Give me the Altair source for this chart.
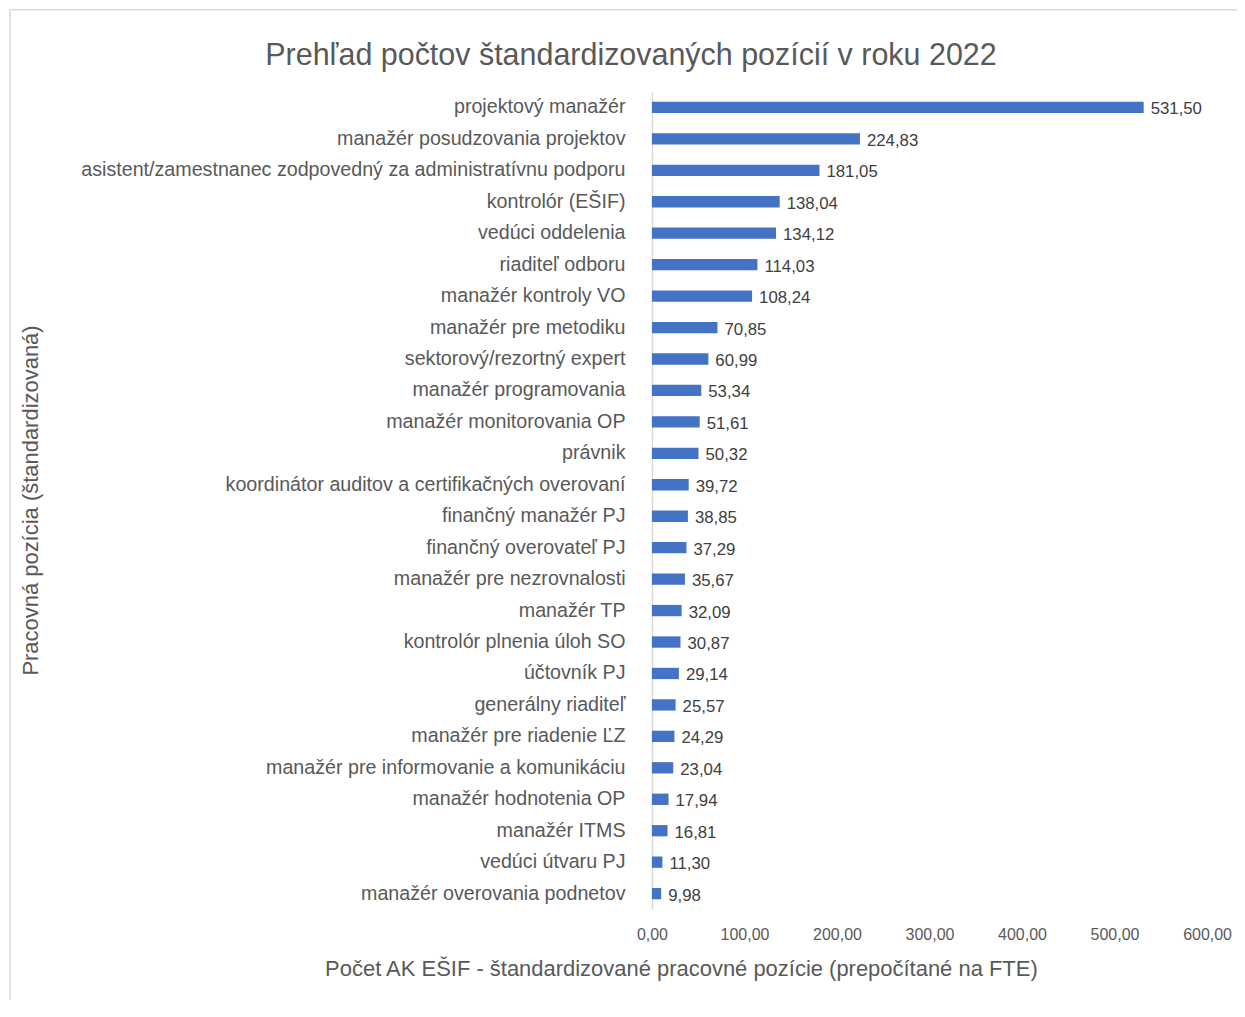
import altair as alt
import pandas as pd

categories = [
    "projektový manažér",
    "manažér posudzovania projektov",
    "asistent/zamestnanec zodpovedný za administratívnu podporu",
    "kontrolór (EŠIF)",
    "vedúci oddelenia",
    "riaditeľ odboru",
    "manažér kontroly VO",
    "manažér pre metodiku",
    "sektorový/rezortný expert",
    "manažér programovania",
    "manažér monitorovania OP",
    "právnik",
    "koordinátor auditov a certifikačných overovaní",
    "finančný manažér PJ",
    "finančný overovateľ PJ",
    "manažér pre nezrovnalosti",
    "manažér TP",
    "kontrolór plnenia úloh SO",
    "účtovník PJ",
    "generálny riaditeľ",
    "manažér pre riadenie ĽZ",
    "manažér pre informovanie a komunikáciu",
    "manažér hodnotenia OP",
    "manažér ITMS",
    "vedúci útvaru PJ",
    "manažér overovania podnetov",
]
values = [531.50, 224.83, 181.05, 138.04, 134.12, 114.03, 108.24, 70.85, 60.99, 53.34,
          51.61, 50.32, 39.72, 38.85, 37.29, 35.67, 32.09, 30.87, 29.14, 25.57,
          24.29, 23.04, 17.94, 16.81, 11.30, 9.98]
x_ticks = [0, 100, 200, 300, 400, 500, 600]

df = pd.DataFrame({"pozicia": categories, "hodnota": values})
df["label"] = [f"{v:.2f}".replace(".", ",") for v in values]

FONT = "Liberation Sans, Arial, sans-serif"
GRAY = "#595959"

base = alt.Chart(df)

y = alt.Y(
    "pozicia:N",
    sort=categories,
    scale=alt.Scale(paddingInner=0.64, paddingOuter=0.32),
    axis=alt.Axis(
        title="Pracovná pozícia (štandardizovaná)",
        labelFontSize=19.7, labelColor=GRAY, labelFont=FONT, labelPadding=27, labelLimit=0,
        ticks=False, domainColor="#D9D9D9", domainWidth=1.5,
        titleFont=FONT, titleFontSize=22, titleColor=GRAY, titleFontWeight="normal",
        titleX=-610, titleY=409, titleAngle=-90, titleAlign="center",
    ),
)
x = alt.X(
    "hodnota:Q",
    scale=alt.Scale(domain=[0, 600]),
    axis=alt.Axis(
        values=x_ticks,
        labelExpr="replace(format(datum.value, '.2f'), '.', ',')",
        grid=False, domain=False, ticks=False, labelFlush=False, labelOverlap=False,
        labelPadding=17, labelFontSize=16, labelColor=GRAY, labelFont=FONT,
        title="Počet AK EŠIF - štandardizované pracovné pozície (prepočítané na FTE)",
        titleFont=FONT, titleFontSize=22, titleColor=GRAY, titleFontWeight="normal",
        titleX=29, titleY=49, titleAlign="center",
    ),
)

bars = base.mark_bar(color="#4472C4").encode(x=x, y=y)
labels = base.mark_text(align="left", baseline="middle", dx=7, dy=2, fontSize=16.8,
                        font=FONT, color="#404040").encode(
    x="hodnota:Q", y=alt.Y("pozicia:N", sort=categories), text="label:N")

border = alt.Chart(alt.Data(values=[{}])).mark_rect(
    filled=False, stroke="#D9D9D9", strokeWidth=1.5).encode(
    x=alt.value(-643), x2=alt.value(620), y=alt.value(-82), y2=alt.value(960))

chart = alt.layer(border, bars, labels).properties(
    width=556, height=819,
    background="white",
    title=alt.TitleParams(
        "Prehľad počtov štandardizovaných pozícií v roku 2022",
        font=FONT, fontSize=30.5, color=GRAY, fontWeight="normal",
        anchor="middle", dx=-299, offset=-63, frame="group",
    ),
    autosize=alt.AutoSizeParams(type="none"),
    padding={"left": 645, "top": 83, "right": 30, "bottom": 90},
).configure_view(strokeWidth=0, stroke="transparent")

chart.save("out.html", embed_options={"renderer": "svg", "actions": False})
